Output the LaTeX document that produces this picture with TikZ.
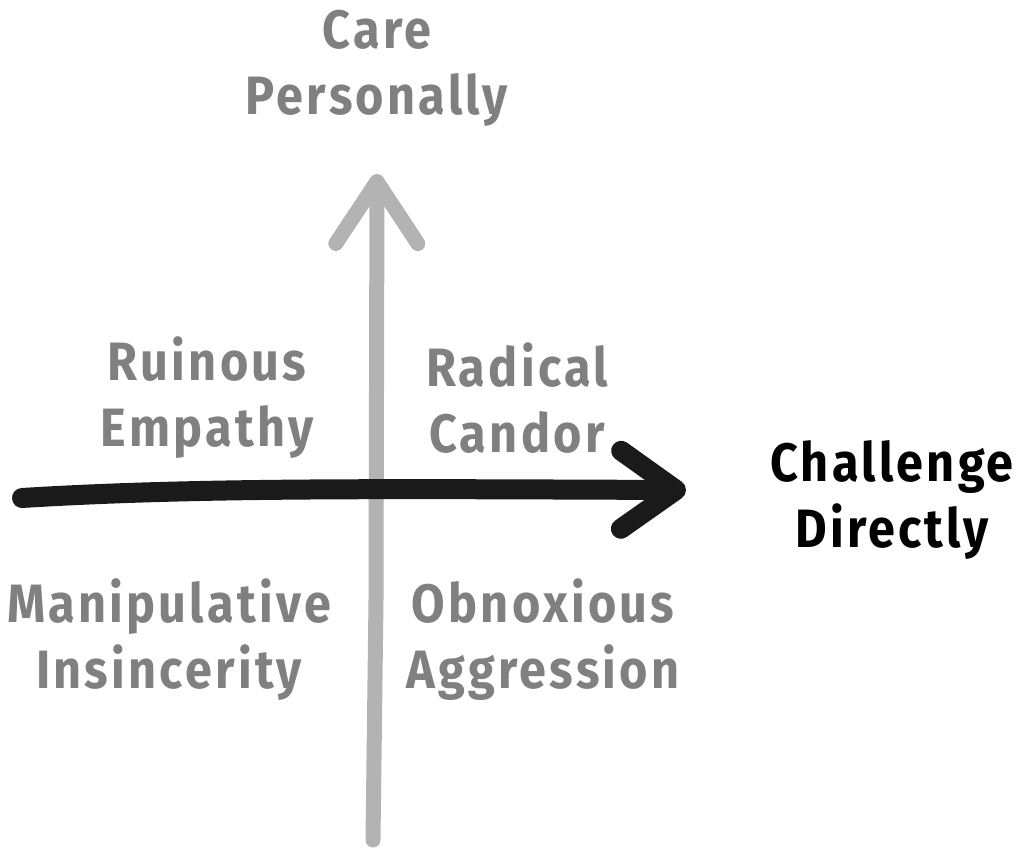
\documentclass[tikz,border=0pt]{standalone}
\usepackage{fontspec}
\setmainfont{Fira Sans}[FakeStretch=0.9, LetterSpace=6]
\usetikzlibrary{arrows.meta}
\definecolor{labelgray}{HTML}{808080}
\definecolor{axisgray}{HTML}{B3B3B3}
\definecolor{axisblack}{HTML}{1A1A1A}
\begin{document}
\begin{tikzpicture} [x=1pt, y=-1pt,
		quad/.style = {align=center, text=labelgray, font=\bfseries\fontsize{54}{66}\selectfont},
		axis/.style = {line width=#1, line cap=round, line join=round}]
		\useasboundingbox (0,0) rectangle (1024,858);
		%\draw [thin, help lines] (0,0) grid[step=100] (1024,858);
		\node [quad] (care) at (377,68) {Care\\Personally};
		\node [quad, text=black] (challenge) at (892,500) {Challenge\\Directly};
		\node [quad] (ruinous) at (207,398) {Ruinous\\Empathy};
		\node [quad] (radical) at (517,398) {Radical\\Candor};
		\node [quad] (manip) at (169,640) {Manipulative\\Insincerity};
		\node [quad] (obnox) at (543,640) {Obnoxious\\Aggression};
		\coordinate (bottom) at (373,840);
		\coordinate (top) at (377,174);
		\coordinate (left) at (22,498);
		\coordinate (right) at (686,490);
		\draw [axis=15pt, axisgray, -{Straight Barb[length=62pt, width=82pt, round]}] (bottom) -- (376,600) -- (top);
		\draw [axis=20pt, axisblack, -{Straight Barb[length=55pt, width=78pt, round]}] (left) .. controls (200,487) and (400,489) .. (right);
	\end{tikzpicture}
\end{document}
